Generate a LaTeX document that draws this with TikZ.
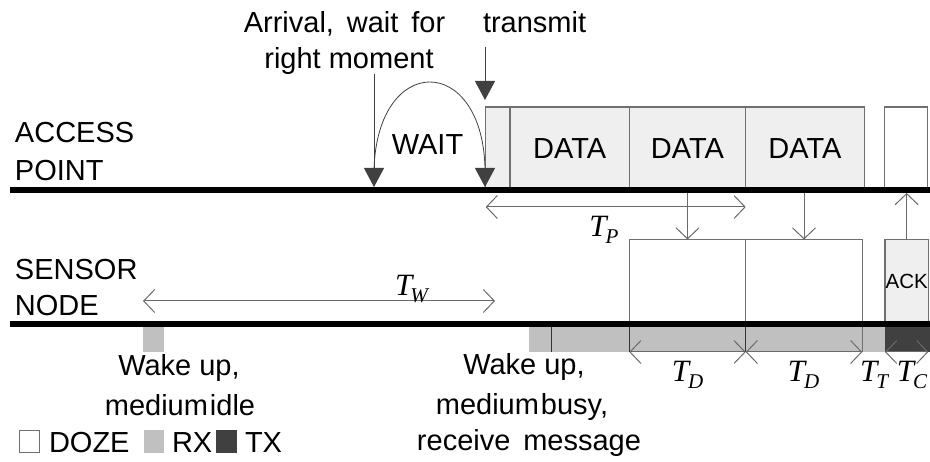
\documentclass[tikz,border=0pt]{standalone}
\usepackage{fontspec}
\setmainfont{Liberation Sans}
\newfontfamily\timesfont{Liberation Serif}
\usetikzlibrary{arrows.meta}

\definecolor{boxgray}{HTML}{707070}
\definecolor{datafill}{HTML}{EFEFEF}
\definecolor{rxfill}{HTML}{C0C0C0}
\definecolor{txfill}{HTML}{404040}
\definecolor{arrgray}{HTML}{6A6A6A}

% italic time symbol T with a subscript; optional kern tucks the subscript in
\newcommand\tsym[2][-1]{{\timesfont\itshape\fontsize{31}{31}\selectfont T\kern#1pt\raisebox{-7pt}{\fontsize{21}{21}\selectfont #2}}}

\begin{document}
\begin{tikzpicture}[x=1pt,y=-1pt,
  font=\fontsize{29}{34}\selectfont,
  lbl/.style={inner sep=0pt, outer sep=0pt, anchor=base},
  lbll/.style={inner sep=0pt, outer sep=0pt, anchor=base west},
  slot/.style={draw=boxgray, line width=1.1pt, inner sep=0pt, outer sep=0pt, anchor=north west},
  apslot/.style={slot, fill=datafill, minimum height=83pt},
  snslot/.style={slot, fill=white, minimum height=84.5pt},
  axis/.style={line width=6pt, black},
  bigtri/.style={line width=1pt, draw=txfill, -{Triangle[length=19pt,width=20pt]}},
  dimarrow/.style={draw=arrgray, line width=1pt, {Straight Barb[length=11pt,width=23pt]}-{Straight Barb[length=11pt,width=23pt]}},
  openarrow/.style={draw=arrgray, line width=1pt, -{Straight Barb[length=11pt,width=23pt]}},
  extline/.style={draw=black!80, line width=0.9pt}]
\useasboundingbox (0,0) rectangle (930,462);

% helper levels
\coordinate (apline) at (0,193);
\coordinate (tpy) at (0,207);
\coordinate (tdy) at (0,352);

% radio state bars of the sensor node
\fill[rxfill] (143,324) rectangle (164,352);
\fill[rxfill] (529.3,324) rectangle (885,352);
\fill[txfill] (885,324) rectangle (930,352);

% access point frames
\node[apslot, minimum width=24.3pt] (pre) at (485.7,107) {};
\node[apslot, minimum width=119.3pt] (d1) at (510,107) {DATA};
\node[apslot, minimum width=116.4pt] (d2) at (629.3,107) {DATA};
\node[apslot, minimum width=118.6pt] (d3) at (745.7,107) {DATA};
\node[slot, fill=white, minimum height=83pt, minimum width=43.4pt] (apack) at (884.3,107) {};

% sensor node frames
\node[snslot, minimum width=116.4pt] (s1) at (629.3,239.5) {};
\node[snslot, minimum width=116.6pt] (s2) at (745.7,239.5) {};
\node[slot, fill=datafill, minimum height=84.5pt, minimum width=43.3pt,
      font=\fontsize{20.5}{21}\selectfont] (sack) at (885,239.5) {ACK};

% extension lines down to the duration arrows
\draw[extline] (551,324) -- (551,352);
\draw[extline] (s1.south west) -- (s1.south west |- tdy);
\draw[extline] (s2.south west) -- (s2.south west |- tdy);
\draw[extline, draw=boxgray] (s2.south east) -- (s2.south east |- tdy);

% the two time axes
\coordinate (apL) at (10,190);
\coordinate (apR) at (930,190);
\coordinate (snL) at (10,324);
\coordinate (snR) at (930,324);
\draw[axis] (apL) -- (apR);
\draw[axis] (snL) -- (snR);

% arrival, waiting and transmission start
\coordinate (arrTop) at (374,74);
\coordinate (arrHit) at (374,187);
\coordinate (arcA) at (374,170);
\coordinate (arcB) at (485,168);
\coordinate (txTop) at (485,47);
\coordinate (txHit) at (485,100);
\coordinate (txLine) at (485,187);
\draw[bigtri] (arrTop) -- (arrHit);
\draw[line width=0.8pt, draw=black!75] (arcA) .. controls (377,53) and (482,53) .. (arcB);
\draw[bigtri] (arcB) -- (txLine);
\draw[bigtri] (txTop) -- (txHit);

% frame forwarding between the stations
\draw[openarrow] (s1.north |- apline) -- (s1.north);
\draw[openarrow] (s2.north |- apline) -- (s2.north);
\draw[openarrow] (sack.north) -- (sack.north |- apline);

% durations
\draw[dimarrow] (pre.west |- tpy) -- (d2.east |- tpy);
\coordinate (twA) at (143,301);
\coordinate (twB) at (495,301);
\draw[dimarrow] (twA) -- (twB);
\draw[dimarrow] (s1.west |- tdy) -- (s1.east |- tdy);
\draw[dimarrow] (s2.west |- tdy) -- (s2.east |- tdy);
\draw[dimarrow] (sack.west |- tdy) -- (sack.east |- tdy);

% duration symbols
\node[lbl] (tp) at (604,237) {\tsym{P}};
\node[lbl] (tw) at (411.5,296) {\tsym[-2]{W}};
\node[lbl] (td1) at (687.5,381.7) {\tsym{D}};
\node[lbl] (td2) at (803.5,381.7) {\tsym{D}};
\node[lbl] (tt) at (874,381.7) {\tsym{T}};
\node[lbl] (tc) at (912,381.7) {\tsym{C}};

% station names
\node[lbll] (ap1) at (15,143) {ACCESS};
\node[lbll] (ap2) at (15,181) {POINT};
\node[lbll] (sn1) at (15,280) {SENSOR};
\node[lbll] (sn2) at (15,316) {NODE};

% event descriptions
\node[lbl] (ev1) at (344.5,33) {Arrival,\, wait\, for};
\node[lbl] (ev2) at (349,69) {right moment};
\node[lbll] (ev3) at (483,33) {transmit};
\node[lbl] (wait) at (427.5,155) {WAIT};
\node[lbl] (wk1) at (179,376) {Wake up,};
\node[lbl] (wk2) at (180,416) {medium\kern2pt idle};
\node[lbl] (wk3) at (524,375) {Wake up,};
\node[lbl] (wk4) at (522,415) {medium\kern2pt busy,};
\node[lbl] (wk5) at (529,451) {receive\, message};

% legend
\draw[draw=boxgray, line width=1pt, fill=white] (19.5,430.5) rectangle (39.5,452.5);
\node[lbll] (lg1) at (49,453) {DOZE};
\fill[rxfill] (144,430) rectangle (164,453);
\node[lbll] (lg2) at (172,453) {RX};
\fill[txfill] (216,430) rectangle (237,453);
\node[lbll] (lg3) at (245,453) {TX};
\end{tikzpicture}
\end{document}
